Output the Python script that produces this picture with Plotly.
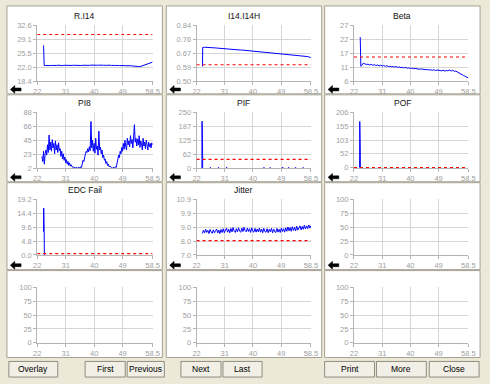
import plotly.graph_objects as go
import numpy as np

W, H = 490, 384

# ---------------- data ----------------
titles = ["R.I14", "I14.I14H", "Beta", "PI8", "PIF", "POF", "EDC Fail", "Jitter", "", "", "", ""]
y_ranges = [(18.4, 32.6), (0.50, 0.84), (6, 27), (2, 88), (0, 250), (0, 206),
            (0, 19.2), (7.0, 10.9), (0, 100), (0, 100), (0, 100), (0, 100)]
y_ticktext = [
    ["18.4", "22.0", "25.5", "29.1", "32.6"],
    ["0.50", "0.59", "0.67", "0.76", "0.84"],
    ["6", "11", "17", "22", "27"],
    ["2", "23", "45", "66", "88"],
    ["0", "62", "125", "187", "250"],
    ["0", "52", "103", "155", "206"],
    ["0.0", "4.8", "9.6", "14.4", "19.2"],
    ["7.0", "8.0", "9.0", "9.9", "10.9"],
    ["0", "25", "50", "75", "100"],
    ["0", "25", "50", "75", "100"],
    ["0", "25", "50", "75", "100"],
    ["0", "25", "50", "75", "100"],
]
x_tickvals = [22, 31, 40, 49, 58.5]
x_ticktext = ["22", "31", "40", "49", "58.5"]
thresholds = [30.3, 0.60, 15.1, None, 39, 0, 0.45, 8.0, None, None, None, None]

# R.I14 (spike then x = 24.5 .. 58.5 step 0.5)
ri14_head_x = [24.0, 24.2]
ri14_head_y = [27.5, 22.4]
ri14_vals = [22.40, 22.35, 22.45, 22.38, 22.42, 22.36, 22.44, 22.40, 22.47, 22.39,
             22.43, 22.37, 22.45, 22.41, 22.48, 22.38, 22.44, 22.40, 22.46, 22.42,
             22.50, 22.41, 22.45, 22.39, 22.47, 22.43, 22.38, 22.46, 22.42, 22.49,
             22.44, 22.40,
             22.52, 22.45, 22.48, 22.42, 22.55, 22.46, 22.43, 22.50, 22.44, 22.47,
             22.40, 22.46, 22.42, 22.38, 22.44, 22.40, 22.36, 22.42, 22.38, 22.33,
             22.37, 22.30, 22.34, 22.28,
             22.20, 22.12, 22.08, 22.12, 22.10, 22.22,
             22.32, 22.45, 22.60, 22.75, 22.92, 23.10, 23.30]

# I14.I14H
i14_head_x = [23.9, 23.95]
i14_head_y = [0.59, 0.706]
i14_vals = [0.707, 0.707, 0.706, 0.706, 0.705, 0.704, 0.704, 0.703, 0.702, 0.701,
            0.700, 0.700, 0.699, 0.698, 0.697, 0.697, 0.696, 0.695, 0.694, 0.693,
            0.693, 0.692, 0.691, 0.690, 0.690, 0.689, 0.688, 0.687, 0.686, 0.686,
            0.685, 0.684, 0.683, 0.682, 0.682, 0.681, 0.680, 0.679, 0.678, 0.678,
            0.677, 0.676, 0.675, 0.674, 0.674, 0.672, 0.672, 0.671, 0.670, 0.669,
            0.668, 0.667, 0.667, 0.666, 0.665, 0.664, 0.663, 0.662, 0.661, 0.660,
            0.659, 0.658, 0.657, 0.655, 0.654, 0.652, 0.650, 0.647, 0.643]

# Beta
beta_head_x = [24.0, 24.1, 24.2]
beta_head_y = [22.6, 17.0, 11.6]
beta_vals = [12.0, 12.8, 12.5, 12.3, 12.4, 12.1, 12.3, 12.0, 12.2, 11.9,
             12.1, 11.8, 12.0, 11.7, 11.9, 11.6, 11.8, 11.5, 11.6, 11.4,
             11.5, 11.3, 11.5, 11.2, 11.3, 11.1, 11.2, 11.0, 11.2, 10.9,
             11.0, 10.8, 10.9, 10.7, 10.8, 10.6, 10.7, 10.5, 10.6, 10.4,
             10.5, 10.3, 10.4, 10.2, 10.3, 10.1, 10.3, 10.0, 10.2, 10.0,
             10.1, 9.9, 10.1, 9.8, 10.0, 9.9, 10.2, 9.8, 10.1, 9.7,
             9.8, 9.4, 9.2, 8.8, 8.5, 8.1, 7.8, 7.5, 7.2]

# PI8 (x = 23.5 .. 58.5 step 0.25)
pi8_vals = [20, 12, 28, 8, 24,
            30, 22, 38, 26, 53, 30,
            42, 28, 46, 33, 40, 24, 44, 30, 38, 26, 41, 29,
            32, 20, 28, 16, 24, 14, 19, 10,
            15, 8, 12, 6, 10, 5, 7, 4,
            4, 3, 3, 2, 3, 3, 2, 3, 3, 2, 4, 3,
            8, 14, 12, 20, 24, 28, 26, 32,
            27, 35, 29, 74, 33, 45,
            28, 40, 25, 48, 31, 36, 22, 59, 30, 34,
            24, 30, 18, 22, 14, 16, 9, 12,
            6, 8, 4, 5, 3, 3, 2, 3, 3, 2, 4, 3,
            10, 16, 22, 18, 28, 24,
            34, 28, 40, 31, 45, 36, 30, 48, 38, 44,
            35, 52, 40, 46, 33, 50, 69, 42, 48, 36,
            47, 38, 52, 34, 44, 40, 30, 48, 36, 42,
            32, 45, 38, 30, 42, 35, 40, 33, 41, 38]

# PIF (main spike, then short low blips; None = gap)
pif_x = [23.7, 23.75, 23.9, 23.95, None,
         26.2, 26.6, None, 28.8, 29.2, None, 31.4, 31.8, None,
         43.3, 43.7, None, 45.3, 45.7, None, 49.2, 49.7, None, 51.2, 51.6, None,
         53.4, 53.8, None, 55.8, 56.2]
pif_y = [0, 210, 103, 0, None,
         1.5, 1.5, None, 1.5, 1.5, None, 2, 2, None,
         2, 2, None, 1.5, 1.5, None, 2, 2, None, 1.5, 1.5, None,
         1.5, 1.5, None, 1.5, 1.5]

# POF
pof_x = [23.8, 23.85, 24.0, 24.05]
pof_y = [0, 172, 80, 0]

# EDC Fail
edc_x = [24.0, 24.05, 24.2, 24.25]
edc_y = [8.0, 16.2, 8.0, 0]

# Jitter (x = 23.85 .. 58.5 step 0.35)
jit_vals = [8.50, 8.74, 8.55, 8.80, 8.58, 8.72, 8.50, 8.78, 8.60, 8.52,
            8.76, 8.55, 8.70, 8.82, 8.54, 8.74, 8.50, 8.78, 8.58, 8.84,
            8.56, 8.74, 8.88, 8.60, 8.80, 8.55, 8.86, 8.62, 8.92, 8.66,
            8.58, 8.84, 8.62, 8.90, 8.66, 8.60, 8.88, 8.64, 8.94, 8.70,
            8.62, 8.88, 8.64, 8.84, 8.58, 8.90, 8.66, 8.60, 8.86, 8.60,
            8.82, 8.62, 8.88, 8.60, 8.82, 8.56, 8.86, 8.64, 8.60, 8.84,
            8.56, 8.80, 8.62, 8.86, 8.55, 8.82, 8.62, 8.58, 8.86, 8.60,
            8.80, 8.58, 8.88, 8.64, 8.84, 8.60, 8.90, 8.66, 8.96, 8.70,
            8.92, 8.66, 8.98, 8.72, 8.94, 8.68, 9.02, 8.74, 8.96, 9.04,
            8.76, 9.00, 8.80, 9.08, 8.82, 9.04, 8.85, 9.10, 8.88, 9.06]

buttons = ["Overlay", "First", "Previous", "Next", "Last", "Print", "More", "Close"]

# ---------------- build series ----------------
step_x = lambda start, step, n: [round(start + step * k, 4) for k in range(n)]
series = [
    (ri14_head_x + step_x(24.5, 0.5, len(ri14_vals)), ri14_head_y + ri14_vals),
    (i14_head_x + step_x(24.5, 0.5, len(i14_vals)), i14_head_y + i14_vals),
    (beta_head_x + step_x(24.5, 0.5, len(beta_vals)), beta_head_y + beta_vals),
    (step_x(23.5, 0.25, len(pi8_vals)), pi8_vals),
    (pif_x, pif_y),
    (pof_x, pof_y),
    (edc_x, edc_y),
    (step_x(23.85, 0.35, len(jit_vals)), jit_vals),
]

# ---------------- layout geometry (pixels) ----------------
PX0 = [34, 197, 358]
PX1 = [152, 314, 475]
PY0 = [22, 111, 200, 290]
PY1 = [79, 168, 257, 347]
PANEL_X = [(3, 162), (166, 325), (328, 487)]
PANEL_Y = [(2, 92), (93, 182), (183, 272), (273, 362)]
TITLE_Y = [12, 101, 190]
COL_OFF = [0, 163, 325]

fx = lambda p: p / W
fy = lambda p: 1 - p / H

BG = "#ece9d8"
GRID = "#d6d6d6"
AXC = "#b4b4b4"
TICKC = "#a0a0a0"
TICKFONT = dict(family="Liberation Sans Narrow, Arial Narrow, Liberation Sans, Arial", size=7.5, color=TICKC)

fig = go.Figure()
layout = dict(width=W, height=H, margin=dict(l=0, r=0, t=0, b=0),
              paper_bgcolor=BG, plot_bgcolor="rgba(0,0,0,0)", showlegend=False)
shapes = []
annotations = []

for i in range(12):
    r, c = divmod(i, 3)
    n = i + 1
    xa = "xaxis" if n == 1 else f"xaxis{n}"
    ya = "yaxis" if n == 1 else f"yaxis{n}"
    xr = "x" if n == 1 else f"x{n}"
    yr = "y" if n == 1 else f"y{n}"
    lo, hi = y_ranges[i]
    yt = list(np.linspace(lo, hi, 5))
    rng_lo = lo - (hi - lo) * 0.008 if i == 5 else lo
    layout[xa] = dict(domain=[fx(PX0[c]), fx(PX1[c])], anchor=yr, range=[22, 58.5],
                      tickmode="array", tickvals=x_tickvals, ticktext=x_ticktext,
                      showgrid=True, gridcolor=GRID, gridwidth=1, zeroline=False,
                      showline=True, linecolor=AXC, linewidth=1, ticks="outside",
                      ticklen=3, tickcolor=AXC, tickfont=TICKFONT, fixedrange=True,
                      layer="below traces")
    layout[ya] = dict(domain=[fy(PY1[r]), fy(PY0[r])], anchor=xr, range=[rng_lo, hi],
                      tickmode="array", tickvals=yt, ticktext=y_ticktext[i],
                      showgrid=True, gridcolor=GRID, gridwidth=1, zeroline=False,
                      showline=True, linecolor=AXC, linewidth=1, ticks="outside",
                      ticklen=3, tickcolor=AXC, tickfont=TICKFONT, fixedrange=True,
                      layer="below traces")
    if i < len(series):
        sx, sy = series[i]
        fig.add_trace(go.Scatter(x=sx, y=sy, mode="lines", xaxis=xr, yaxis=yr,
                                 connectgaps=False,
                                 line=dict(color="#0000ff", width=1), hoverinfo="skip"))
    else:
        fig.add_trace(go.Scatter(x=[], y=[], mode="lines", xaxis=xr, yaxis=yr))
    if thresholds[i] is not None:
        fig.add_trace(go.Scatter(x=[22, 58.5], y=[thresholds[i]] * 2, mode="lines",
                                 xaxis=xr, yaxis=yr,
                                 line=dict(color="#ff0000", width=1.2, dash="dot"),
                                 hoverinfo="skip"))

    # panel background
    px0, px1 = PANEL_X[c]
    py0, py1 = PANEL_Y[r]
    shapes.append(dict(type="rect", xref="paper", yref="paper", layer="below",
                       x0=fx(px0), x1=fx(px1), y0=fy(py1), y1=fy(py0),
                       fillcolor="white", line=dict(color="#a5a294", width=1)))
    if r < 3:
        annotations.append(dict(text=titles[i], xref="paper", yref="paper",
                                x=fx((px0 + px1) / 2), y=fy(TITLE_Y[r]),
                                showarrow=False, xanchor="center", yanchor="middle",
                                font=dict(family="Liberation Sans, Arial", size=8.5, color="#111")))
        # back arrow icon
        ox = COL_OFF[c]
        oy = 90 * r
        pts = [(6.5, 87.5), (11, 83.5), (11, 86), (17.5, 86), (17.5, 89), (11, 89), (11, 91.5)]
        path = "M " + " L ".join(f"{fx(px + ox):.5f},{fy(py + oy):.5f}" for px, py in pts) + " Z"
        shapes.append(dict(type="path", xref="paper", yref="paper", path=path,
                           fillcolor="black", line=dict(color="black", width=0.5)))

# buttons
BTN_X = [(5, 55), (83, 124), (126, 164), (181, 222), (224, 264), (328, 379), (381, 432), (435, 486)]
for label, (bx0, bx1) in zip(buttons, BTN_X):
    shapes.append(dict(type="rect", xref="paper", yref="paper",
                       x0=fx(bx0), x1=fx(bx1), y0=fy(382), y1=fy(366),
                       fillcolor="#f1efe6", line=dict(color="#8f8c80", width=1)))
    annotations.append(dict(text=label, xref="paper", yref="paper",
                            x=fx((bx0 + bx1) / 2), y=fy(374), showarrow=False,
                            xanchor="center", yanchor="middle",
                            font=dict(family="Liberation Sans, Arial", size=8.5, color="#000")))

layout["shapes"] = shapes
layout["annotations"] = annotations
fig.update_layout(**layout)
fig.write_html("out.html", config={"displayModeBar": False},
               post_script="document.body.style.margin='0';document.body.style.overflow='hidden';")
